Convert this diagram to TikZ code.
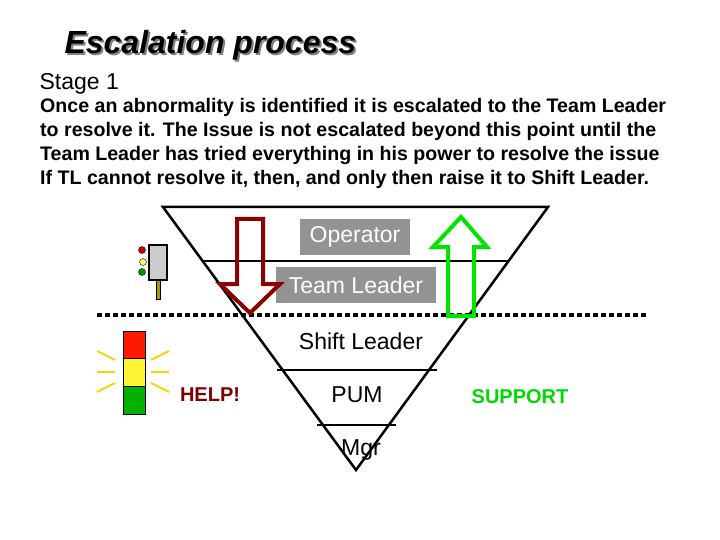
\documentclass[tikz,border=0pt]{standalone}
\usepackage{fontspec}
\setmainfont{Liberation Sans}
\begin{document}
\begin{tikzpicture}[x=1pt,y=-1pt,
  lvl/.style={font=\fontsize{23}{26}\selectfont},
  graybox/.style={fill=gray!85!white,text=white,inner sep=0pt,font=\fontsize{23}{26}\selectfont},
  ray/.style={yellow!70!orange,line width=2pt}]
\useasboundingbox (0,0) rectangle (720,540);
% title
\node[anchor=west,font=\fontsize{32}{36}\selectfont\bfseries\itshape,text=gray] (tsh) at (63,47) {Escalation process};
\node[anchor=west,font=\fontsize{32}{36}\selectfont\bfseries\itshape] (title) at (61,45) {Escalation process};
\node[anchor=west,font=\fontsize{23}{26}\selectfont] (stage) at (36,84) {Stage 1};
\node[anchor=north west,align=left,font=\fontsize{19.6}{24}\selectfont\bfseries,inner sep=0pt] (body) at (40,98) {Once an abnormality is identified it is escalated to the Team Leader\\to resolve it. The Issue is not escalated beyond this point until the\\Team Leader has tried everything in his power to resolve the issue\\If TL cannot resolve it, then, and only then raise it to Shift Leader.};
% triangle
\coordinate (tl) at (163,207); \coordinate (tr) at (548,207); \coordinate (ap) at (356,470);
\draw[line width=2.5pt] (tl) -- (tr) -- (ap) -- cycle;
\draw[line width=1.5pt] (203,261) -- (509,261);
\draw[line width=1.5pt] (277,370) -- (437,370);
\draw[line width=1.5pt] (317,425) -- (396,425);
\draw[line width=3.5pt,dash pattern=on 5pt off 3pt] (97,315) -- (647,315);
% labels
\node[graybox,minimum width=110,minimum height=36] (op) at (355,237) {Operator};
\node[graybox,minimum width=160,minimum height=36] (tlead) at (356,285) {Team Leader};
\node[lvl] (sl) at (361,341) {Shift Leader};
\node[lvl] (pum) at (357,395) {PUM};
\node[lvl] (mgr) at (361,450) {Mgr};
\node[font=\fontsize{20}{24}\selectfont\bfseries,text=red!50!black] (help) at (210,395) {HELP!};
\node[font=\fontsize{20}{24}\selectfont\bfseries,text=green!85!black] (sup) at (520,397) {SUPPORT};
% arrows
\draw[line width=4pt,red!55!black,line join=miter] (237,219) -- (263,219) -- (263,284) -- (280,284) -- (250,313) -- (220,284) -- (237,284) -- cycle;
\draw[line width=4pt,green!90!black,line join=miter] (448,316) -- (474,316) -- (474,247) -- (487,247) -- (461,217) -- (433,247) -- (448,247) -- cycle;
% small traffic light
\draw[fill=olive!80!yellow,draw=black,line width=0.5pt] (156.5,280) rectangle (160,299);
\draw[line width=1.5pt,fill=gray!40] (149,245) rectangle (167,280);
\draw[fill=red!80!black] (142,250) circle (3.5);
\draw[fill=yellow!60] (143,262) circle (3.5);
\draw[fill=green!60!black] (142,272) circle (3.5);
% big traffic light
\draw[fill=red!80!orange] (123,331) rectangle (145,358);
\draw[fill=yellow!80] (123,358) rectangle (145,386);
\draw[fill=green!70!black] (123,386) rectangle (145,414);
\draw[ray] (97,351) -- (115,360); \draw[ray] (97,372) -- (115,372); \draw[ray] (97,392) -- (115,383);
\draw[ray] (169,351) -- (151,360); \draw[ray] (169,372) -- (151,372); \draw[ray] (169,392) -- (151,383);
\end{tikzpicture}
\end{document}
